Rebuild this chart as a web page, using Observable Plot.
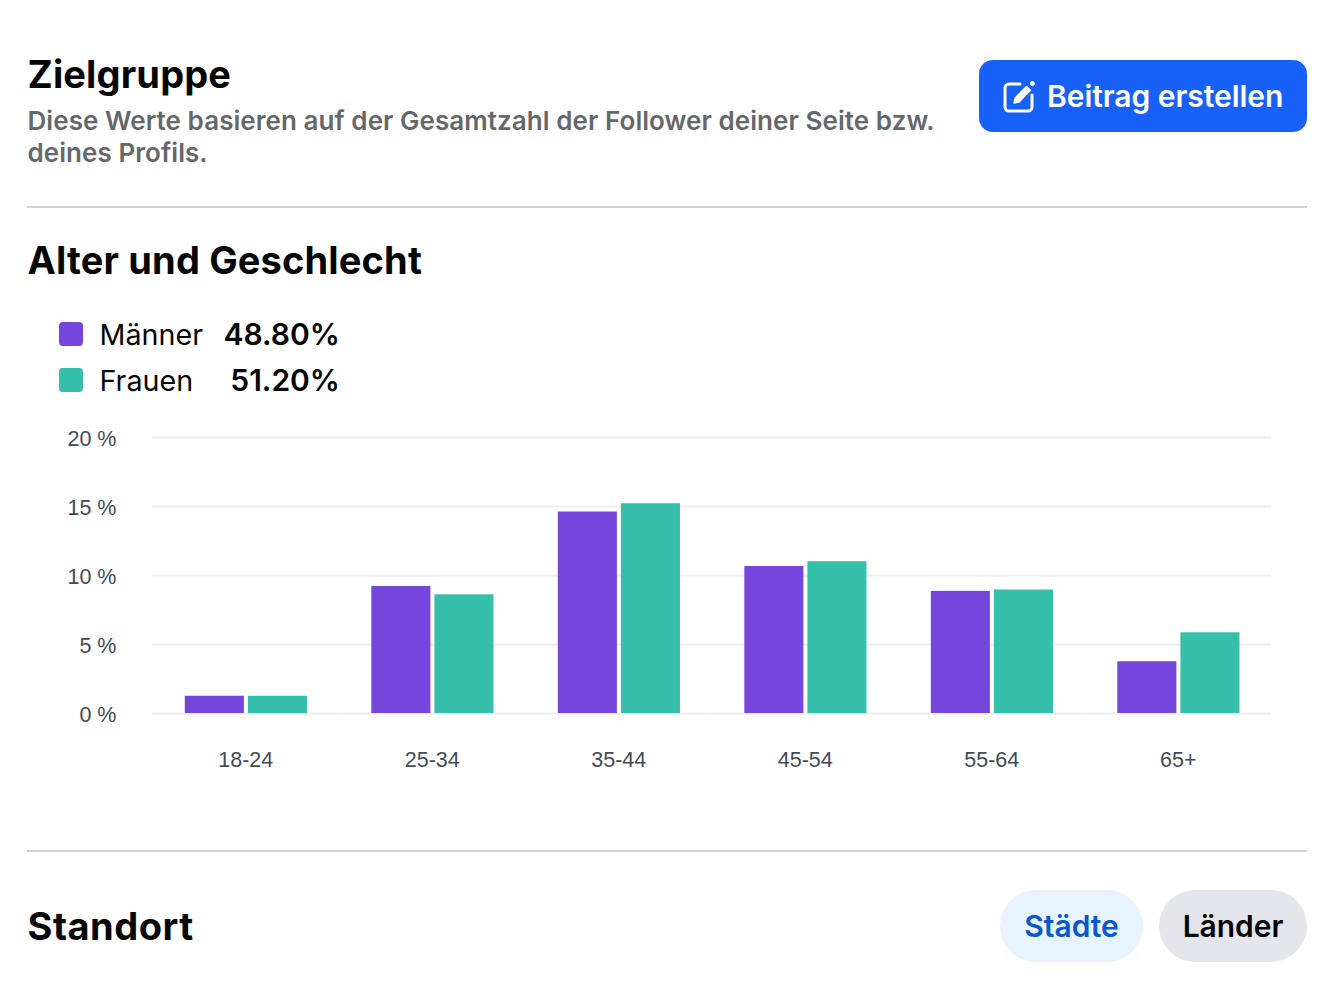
<!DOCTYPE html>
<html><head><meta charset="utf-8">
<script src="https://cdn.jsdelivr.net/npm/d3@7"></script>
<script src="https://cdn.jsdelivr.net/npm/@observablehq/plot@0.6"></script>
<style>
html,body{margin:0;padding:0;background:#fff;}
body{position:relative;width:1336px;height:996px;overflow:hidden;font-family:Inter,sans-serif;color:#050505;}
.a{position:absolute;white-space:nowrap;line-height:1;}
.h{font-weight:700;font-size:38px;letter-spacing:0.15px;}
.sep{position:absolute;left:27px;width:1280px;height:2px;background:#d0d1d3;}
.btn{position:absolute;display:flex;align-items:center;justify-content:center;font-weight:600;font-size:30px;letter-spacing:-0.05px;}
.sw{position:absolute;left:59px;width:24px;height:24px;border-radius:4px;}
#chart{position:absolute;left:0;top:400px;}
</style></head><body>
<div class="a h" style="left:27.5px;top:55px">Zielgruppe</div>
<div class="a" style="left:27.5px;top:105px;font-size:26px;font-weight:600;letter-spacing:0.06px;color:#65676b;line-height:32px;white-space:normal;width:930px">Diese Werte basieren auf der Gesamtzahl der Follower deiner Seite bzw. deines Profils.</div>
<div class="btn" style="left:979px;top:60px;width:304px;height:72px;padding-left:24px;justify-content:flex-start;background:#1761f9;border-radius:14px;color:#fff;">
<svg width="34" height="34" viewBox="0 0 34 34" style="margin-right:10px" fill="none" stroke="#fff" stroke-width="3" stroke-linecap="round" stroke-linejoin="round"><path d="M17 5H6a4 4 0 0 0-4 4v19a4 4 0 0 0 4 4h19a4 4 0 0 0 4-4V16"/><path d="M11 24l1.2-5L23.5 7.5l3.8 3.8L16 23z" fill="#fff" stroke-width="1.5"/><circle cx="29.5" cy="4.5" r="2" fill="#fff" stroke-width="1"/></svg>Beitrag erstellen</div>
<div class="sep" style="top:206px"></div>
<div class="a h" style="left:27.5px;top:241px">Alter und Geschlecht</div>
<div class="sw" style="top:322px;background:#7546dc"></div>
<div class="a" style="left:99.5px;top:321px;font-size:28.7px">Männer</div>
<div class="a" style="left:202px;width:138px;text-align:right;top:319px;font-size:30px;font-weight:600">48.80%</div>
<div class="sw" style="top:368px;background:#36c0ab"></div>
<div class="a" style="left:99.5px;top:367px;font-size:28.7px">Frauen</div>
<div class="a" style="left:202px;width:138px;text-align:right;top:365px;font-size:30px;font-weight:600">51.20%</div>
<div id="chart"></div>
<div class="sep" style="top:850px"></div>
<div class="a h" style="left:27.5px;top:907px;letter-spacing:0.5px">Standort</div>
<div class="btn" style="left:1000px;top:890px;width:143px;height:72px;border-radius:36px;background:#e7f3ff;color:#0a58ca;">Städte</div>
<div class="btn" style="left:1159px;top:890px;width:148px;height:72px;border-radius:36px;background:#e4e6eb;color:#050505;">Länder</div>
<script>
const ages = ["18-24","25-34","35-44","45-54","55-64","65+"];
const maenner = [1.25,9.2,14.6,10.65,8.85,3.75];
const frauen = [1.25,8.6,15.2,11.0,8.95,5.85];
const genders = ["Männer","Frauen"];
const colors = ["#7546dc","#36c0ab"];
const yTicks = [0,5,10,15,20];
const rows = ages.flatMap((a,i)=>[
  {age:a,gender:genders[0],value:maenner[i]},
  {age:a,gender:genders[1],value:frauen[i]}]);
const plot = Plot.plot({
  width:1336,height:400,
  marginLeft:152,marginRight:65,marginTop:37,marginBottom:87,
  style:{fontFamily:"'Liberation Sans',Arial,sans-serif",background:"transparent"},
  fx:{domain:ages,paddingInner:0,paddingOuter:0,round:false,label:null},
  x:{domain:genders,paddingInner:0.0635,paddingOuter:0.51,align:0.51,round:false,axis:null,label:null},
  y:{domain:[0,20],label:null},
  color:{domain:genders,range:colors},
  marks:[
    Plot.ruleY(yTicks,{stroke:"#eeeeee",strokeWidth:2}),
    Plot.barY(rows,{fx:"age",x:"gender",y:"value",fill:"gender"}),
    Plot.axisY({ticks:yTicks,tickSize:0,tickPadding:36,tickFormat:d=>d+" %",fontSize:21.5,fill:"#414b5a",dy:2}),
    Plot.axisFx({anchor:"bottom",tickSize:0,tickPadding:38,fontSize:21.5,fill:"#414b5a",label:null})
  ]
});
document.getElementById("chart").appendChild(plot);
</script>
</body></html>
